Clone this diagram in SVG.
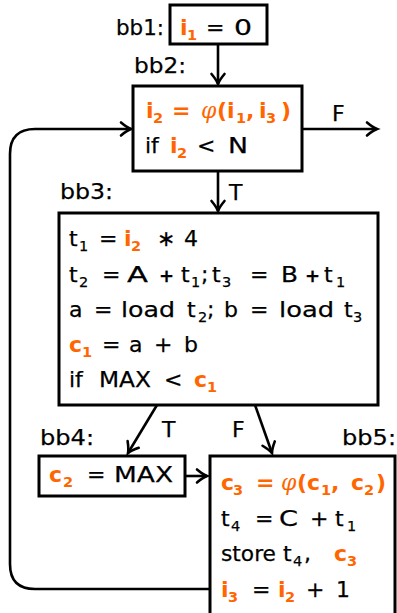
<svg xmlns="http://www.w3.org/2000/svg" width="397" height="613" viewBox="0 0 397 613">
<style>
text{font-family:"DejaVu Sans",sans-serif;font-size:22px;fill:#000;stroke:#000;stroke-width:0.25}
.o{fill:#FF6600;stroke:none;font-weight:bold}
.s{font-size:14.5px}
.sp{font-size:18px;font-weight:bold}
.ph{font-family:"DejaVu Serif",serif;font-style:italic;font-weight:normal}
.box{fill:#fff;stroke:#000;stroke-width:3}
.c{fill:none;stroke:#000;stroke-width:2.6}
</style>
<defs>
<marker id="ah" markerUnits="userSpaceOnUse" markerWidth="20" markerHeight="20" refX="0" refY="0" viewBox="-12 -10 14 20" orient="auto">
<path d="M-10,-6.5 Q-4,-1.5 0,0 Q-4,1.5 -10,6.5" fill="none" stroke="#000" stroke-width="2.6" stroke-linecap="round"/>
</marker>
</defs>
<g id="connectors">
<path class="c" d="M218,44 V84" marker-end="url(#ah)"/>
<path class="c" d="M302,129 H377" marker-end="url(#ah)"/>
<path class="c" d="M218,171 V211" marker-end="url(#ah)"/>
<path class="c" d="M157,405 L128,453" marker-end="url(#ah)"/>
<path class="c" d="M255,405 L272,453" marker-end="url(#ah)"/>
<path class="c" d="M185,476 H207" marker-end="url(#ah)"/>
<path class="c" d="M210,589 H35 Q10,589 10,564 V154 Q10,129 35,129 H131" marker-end="url(#ah)"/>
<text x="332" y="121">F</text>
<text x="229" y="200">T</text>
<text x="162" y="437">T</text>
<text x="232" y="437">F</text>
</g>
<g id="bb1">
<text x="116" y="35" textLength="48" lengthAdjust="spacingAndGlyphs">bb1:</text>
<rect class="box" x="170" y="5" width="97" height="39"/>
<text y="35"><tspan class="o" x="180">i</tspan><tspan class="o s" x="187" y="40">1</tspan><tspan x="206" y="35">=</tspan><tspan x="234" textLength="18" lengthAdjust="spacingAndGlyphs">0</tspan></text>
</g>
<g id="bb2">
<text x="134" y="73" textLength="52" lengthAdjust="spacingAndGlyphs">bb2:</text>
<rect class="box" x="133" y="86" width="169" height="85"/>
<text class="o" y="118"><tspan x="146">i</tspan><tspan class="s" x="153" y="123">2</tspan><tspan x="172" y="118">=</tspan><tspan class="ph" x="201">φ</tspan><tspan x="217">(i</tspan><tspan class="s" x="236" y="123">1</tspan><tspan x="246" y="118">,</tspan><tspan x="259">i</tspan><tspan class="s" x="266" y="123">3</tspan><tspan x="281" y="118">)</tspan></text>
<text y="153"><tspan x="145">if</tspan><tspan class="o" x="170">i</tspan><tspan class="o s" x="177" y="158">2</tspan><tspan x="197" y="153">&lt;</tspan><tspan x="228" textLength="20" lengthAdjust="spacingAndGlyphs">N</tspan></text>
</g>
<g id="bb3">
<text x="60" y="199" textLength="53" lengthAdjust="spacingAndGlyphs">bb3:</text>
<rect class="box" x="59" y="213" width="319" height="192"/>
<text y="246"><tspan x="69">t</tspan><tspan class="s" x="79" y="251">1</tspan><tspan x="99" y="246">=</tspan><tspan class="o" x="124">i</tspan><tspan class="o s" x="131" y="251">2</tspan><tspan x="157" y="246">∗</tspan><tspan x="184">4</tspan></text>
<text y="282"><tspan x="69">t</tspan><tspan class="s" x="79" y="287">2</tspan><tspan x="102" y="282">=</tspan><tspan x="127" textLength="21" lengthAdjust="spacingAndGlyphs">A</tspan><tspan class="sp" x="159">+</tspan><tspan x="181">t</tspan><tspan class="s" x="191" y="287">1</tspan><tspan x="201" y="282">;</tspan><tspan x="212">t</tspan><tspan class="s" x="222" y="287">3</tspan><tspan x="250" y="282">=</tspan><tspan x="281" textLength="17" lengthAdjust="spacingAndGlyphs">B</tspan><tspan class="sp" x="305">+</tspan><tspan x="324">t</tspan><tspan class="s" x="336" y="287">1</tspan></text>
<text y="317"><tspan x="69">a</tspan><tspan x="94">=</tspan><tspan x="121" textLength="54" lengthAdjust="spacingAndGlyphs">load</tspan><tspan x="187">t</tspan><tspan class="s" x="198" y="322">2</tspan><tspan x="207" y="317">;</tspan><tspan x="224">b</tspan><tspan x="250">=</tspan><tspan x="279" textLength="55" lengthAdjust="spacingAndGlyphs">load</tspan><tspan x="344">t</tspan><tspan class="s" x="353" y="322">3</tspan></text>
<text y="352"><tspan class="o" x="69">c</tspan><tspan class="o s" x="82" y="357">1</tspan><tspan x="102" y="352">=</tspan><tspan x="129">a</tspan><tspan x="154">+</tspan><tspan x="184">b</tspan></text>
<text y="387"><tspan x="69">if</tspan><tspan x="99" textLength="52" lengthAdjust="spacingAndGlyphs">MAX</tspan><tspan x="164">&lt;</tspan><tspan class="o" x="194">c</tspan><tspan class="o s" x="207" y="392">1</tspan></text>
</g>
<g id="bb4">
<text x="40" y="445" textLength="54" lengthAdjust="spacingAndGlyphs">bb4:</text>
<rect class="box" x="39" y="456" width="146" height="40"/>
<text y="482"><tspan class="o" x="49">c</tspan><tspan class="o s" x="63" y="487">2</tspan><tspan x="87" y="482">=</tspan><tspan x="114" textLength="59" lengthAdjust="spacingAndGlyphs">MAX</tspan></text>
</g>
<g id="bb5">
<text x="342" y="445" textLength="54" lengthAdjust="spacingAndGlyphs">bb5:</text>
<rect class="box" x="210" y="456" width="185" height="175"/>
<text class="o" y="490"><tspan x="221">c</tspan><tspan class="s" x="233" y="495">3</tspan><tspan x="256" y="490">=</tspan><tspan class="ph" x="281">φ</tspan><tspan x="297">(c</tspan><tspan class="s" x="321" y="495">1</tspan><tspan x="331" y="490">,</tspan><tspan x="351">c</tspan><tspan class="s" x="364" y="495">2</tspan><tspan x="376" y="490">)</tspan></text>
<text y="525.5"><tspan x="221">t</tspan><tspan class="s" x="231" y="530.5">4</tspan><tspan x="255" y="525.5">=</tspan><tspan x="279" textLength="19" lengthAdjust="spacingAndGlyphs">C</tspan><tspan x="310">+</tspan><tspan x="335">t</tspan><tspan class="s" x="347" y="530.5">1</tspan></text>
<text y="561"><tspan x="221" textLength="55" lengthAdjust="spacingAndGlyphs">store</tspan><tspan x="283">t</tspan><tspan class="s" x="293" y="566">4</tspan><tspan x="304" y="561">,</tspan><tspan class="o" x="334">c</tspan><tspan class="o s" x="347" y="566">3</tspan></text>
<text y="597"><tspan class="o" x="221">i</tspan><tspan class="o s" x="228" y="602">3</tspan><tspan x="252" y="597">=</tspan><tspan class="o" x="278">i</tspan><tspan class="o s" x="285" y="602">2</tspan><tspan x="306" y="597">+</tspan><tspan x="336">1</tspan></text>
</g>
</svg>
